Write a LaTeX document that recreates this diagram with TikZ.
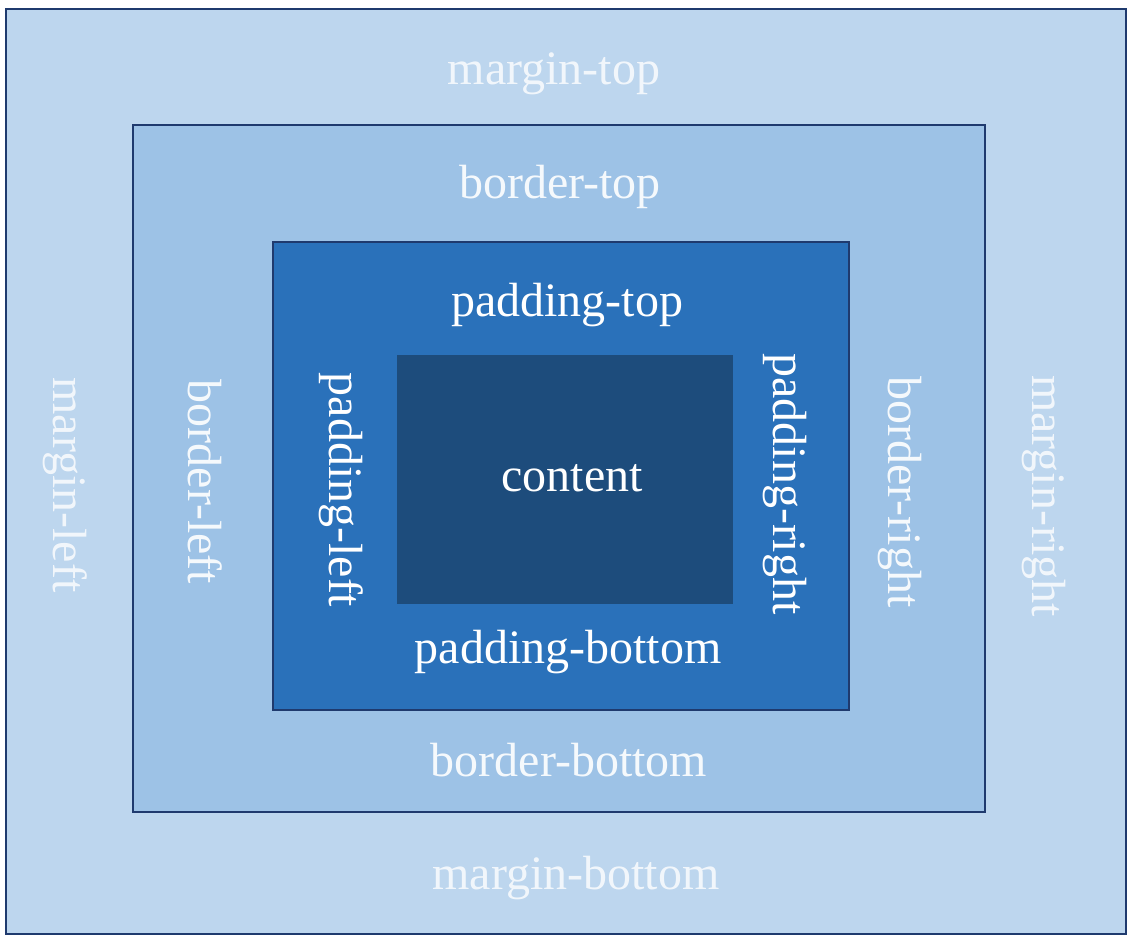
\documentclass[tikz,border=0pt]{standalone}
\usepackage{fontspec}
\setmainfont{Liberation Serif}
\usepackage{tikz}
\definecolor{marginblue}{HTML}{BDD6EE}
\definecolor{borderblue}{HTML}{9DC2E6}
\definecolor{paddingblue}{HTML}{2A71BA}
\definecolor{contentblue}{HTML}{1D4C7C}
\definecolor{edgeblue}{HTML}{1F3A6E}
\tikzset{box label/.style={text=white,inner sep=0,anchor=base,font=\fontsize{48}{56}\selectfont}}
\tikzset{side label/.style={box label,rotate=-90}}

\begin{document}
\begin{tikzpicture}[x=1pt,y=-1pt]
        \useasboundingbox (0,0) rectangle (1134,943);

          %margin
          \fill[color=marginblue, draw=edgeblue, line width=2pt] (6,9) rectangle (1126,934);
          \node[box label, text opacity=0.8] (margin top) at (554,84) {margin-top};
          \node[box label, text opacity=0.8] (margin bottom) at (576,889) {margin-bottom};
          \node[side label, text opacity=0.8] (margin left) at (53,485) {margin-left};
          \node[side label, text opacity=0.8] (margin right) at (1032,496) {margin-right};

          %border
          \fill[color=borderblue, draw=edgeblue, line width=2pt] (133,125) rectangle (985,812);
          \node[box label, text opacity=0.9] (border top) at (560,198) {border-top};
          \node[box label, text opacity=0.9] (border bottom) at (569,776) {border-bottom};
          \node[side label, text opacity=0.9] (border left) at (188,482) {border-left};
          \node[side label, text opacity=0.9] (border right) at (888,492) {border-right};

          %padding
          \fill[color=paddingblue, draw=edgeblue, line width=1.5pt] (273,242) rectangle (849,710);
          \node[box label] (padding top) at (567,316) {padding-top};
          \node[box label] (padding bottom) at (568,663) {padding-bottom};
          \node[side label] (padding left) at (329,490) {padding-left};
          \node[side label] (padding right) at (773,484) {padding-right};

          %content
          \fill[color=contentblue] (397,355) rectangle (733,604);
          \node[box label] (content) at (572,491) {content};

        \end{tikzpicture}
\end{document}
